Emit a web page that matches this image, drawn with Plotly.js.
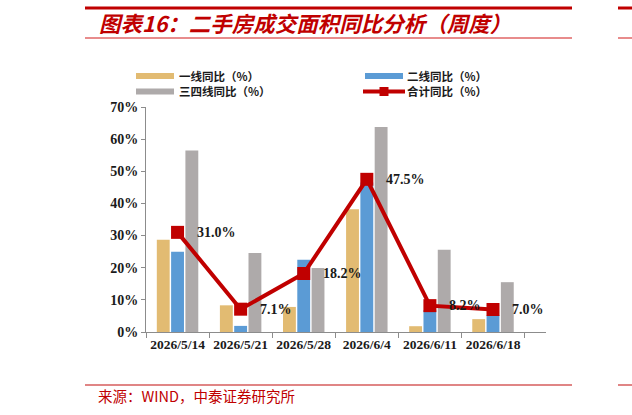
<!DOCTYPE html>
<html><head><meta charset="utf-8">
<script src="https://cdn.plot.ly/plotly-3.0.1.min.js"></script>
<style>html,body{margin:0;padding:0;background:#fff}#c{width:632px;height:415px}</style>
</head><body><div id="c"></div>
<script>
// ---- data ----
const categories = ['2026/5/14','2026/5/21','2026/5/28','2026/6/4','2026/6/11','2026/6/18'];
const tier1 = [28.7, 8.3, 7.8, 38.2, 1.8, 4.0];
const tier2 = [25.0, 1.9, 22.5, 46.5, 6.8, 5.2];
const tier34 = [56.5, 24.6, 19.9, 63.8, 25.6, 15.5];
const total = [31.0, 7.1, 18.2, 47.5, 8.2, 7.0];
const seriesNames = ['一线同比（%）','二线同比（%）','三四线同比（%）','合计同比（%）'];
const yTicks = [0,10,20,30,40,50,60,70];
const titleText = '图表16：二手房成交面积同比分析（周度）';
const sourceText = '来源：WIND，中泰证券研究所';

// ---- style ----
const C1='#E2BB72', C2='#5B9BD5', C3='#AEAAAA', CR='#C00000';
const Wd=632, Ht=415, L=146, R=86, T=107, B=83;
const PW=Wd-L-R, PH=Ht-T-B;
const px=x=>(x-L)/PW, py=y=>(T+PH-y)/PH;
const serif='"Liberation Serif", "Times New Roman", serif';
const cjk='"Noto Sans CJK SC", sans-serif';

const traces = [
  {type:'bar', name:seriesNames[0], x:categories, y:tier1, marker:{color:C1}},
  {type:'bar', name:seriesNames[1], x:categories, y:tier2, marker:{color:C2}},
  {type:'bar', name:seriesNames[2], x:categories, y:tier34, marker:{color:C3}},
  {type:'scatter', mode:'lines+markers', name:seriesNames[3], x:categories, y:total,
   line:{color:CR, width:4}, marker:{color:CR, symbol:'square', size:13}}
];

const shapes = [];
const hline=(x0,x1,y,w,c)=>shapes.push({type:'line',xref:'paper',yref:'paper',x0:px(x0),x1:px(x1),y0:py(y),y1:py(y),line:{color:c,width:w}});
hline(85,572,8,3,CR); hline(618,632,8,3,CR);
hline(85,572,38,1.5,'#E06666'); hline(618,632,38,1.5,'#E06666');
hline(85,572,385,2,'#E08585'); hline(618,632,385,2,'#E08585');
// legend swatches
const R1=76, R2=91.5;
const rect=(x0,x1,y,h,c)=>shapes.push({type:'rect',xref:'paper',yref:'paper',x0:px(x0),x1:px(x1),y0:py(y-h/2),y1:py(y+h/2),fillcolor:c,line:{width:0}});
rect(136,174,R1,6,C1); rect(365,403,R1,6,C2); rect(136,174,R2,6,C3);
hline(363,405,R2,4,CR);
rect(379.5,388.5,R2,9,CR);

const annotations = [];
const legTxt=(x,y,t)=>annotations.push({xref:'paper',yref:'paper',x:px(x),y:py(y),xanchor:'left',yanchor:'middle',text:t,showarrow:false,borderpad:0,font:{family:cjk,size:11.5,color:'#1a1a1a',weight:'bold'}});
legTxt(178,R1,seriesNames[0]); legTxt(406,R1,seriesNames[1]);
legTxt(178,R2,seriesNames[2]); legTxt(406,R2,seriesNames[3]);
total.forEach((v,i)=>annotations.push({x:categories[i],y:v,xref:'x',yref:'y',xanchor:'left',yanchor:'middle',xshift:17,text:v.toFixed(1)+'%',showarrow:false,font:{family:serif,size:14,color:'#1a1a1a',weight:'bold'}}));
annotations.push({xref:'paper',yref:'paper',x:px(96),y:py(395),xanchor:'left',yanchor:'middle',text:sourceText,showarrow:false,font:{family:cjk,size:14.5,color:CR}});

const layout = {
  width:Wd, height:Ht, margin:{l:L,r:R,t:T,b:B},
  paper_bgcolor:'#fff', plot_bgcolor:'#fff', showlegend:false,
  title:{text:titleText, xref:'container', yref:'container', x:99/Wd, xanchor:'left', y:1-24/Ht, yanchor:'middle',
    font:{family:cjk, size:21.5, color:CR, weight:'bold', style:'italic'}},
  barmode:'group', bargap:0.32, bargroupgap:0.1,
  xaxis:{type:'category', showline:true, linecolor:'#8C8C8C', linewidth:1, ticks:'outside', tickson:'boundaries', ticklen:5, tickcolor:'#8C8C8C',
    tickangle:0, showgrid:false, tickfont:{family:serif,size:13.5,color:'#1a1a1a',weight:'bold'}},
  yaxis:{range:[0,70], tickvals:yTicks, ticktext:yTicks.map(v=>v+'%'), showline:true, linecolor:'#8C8C8C', linewidth:1, ticks:'outside', ticklen:4, tickcolor:'#8C8C8C',
    showgrid:false, zeroline:false, tickfont:{family:serif,size:14,color:'#1a1a1a',weight:'bold'}},
  shapes, annotations
};
Plotly.newPlot('c', traces, layout, {displayModeBar:false, staticPlot:true});
</script></body></html>
